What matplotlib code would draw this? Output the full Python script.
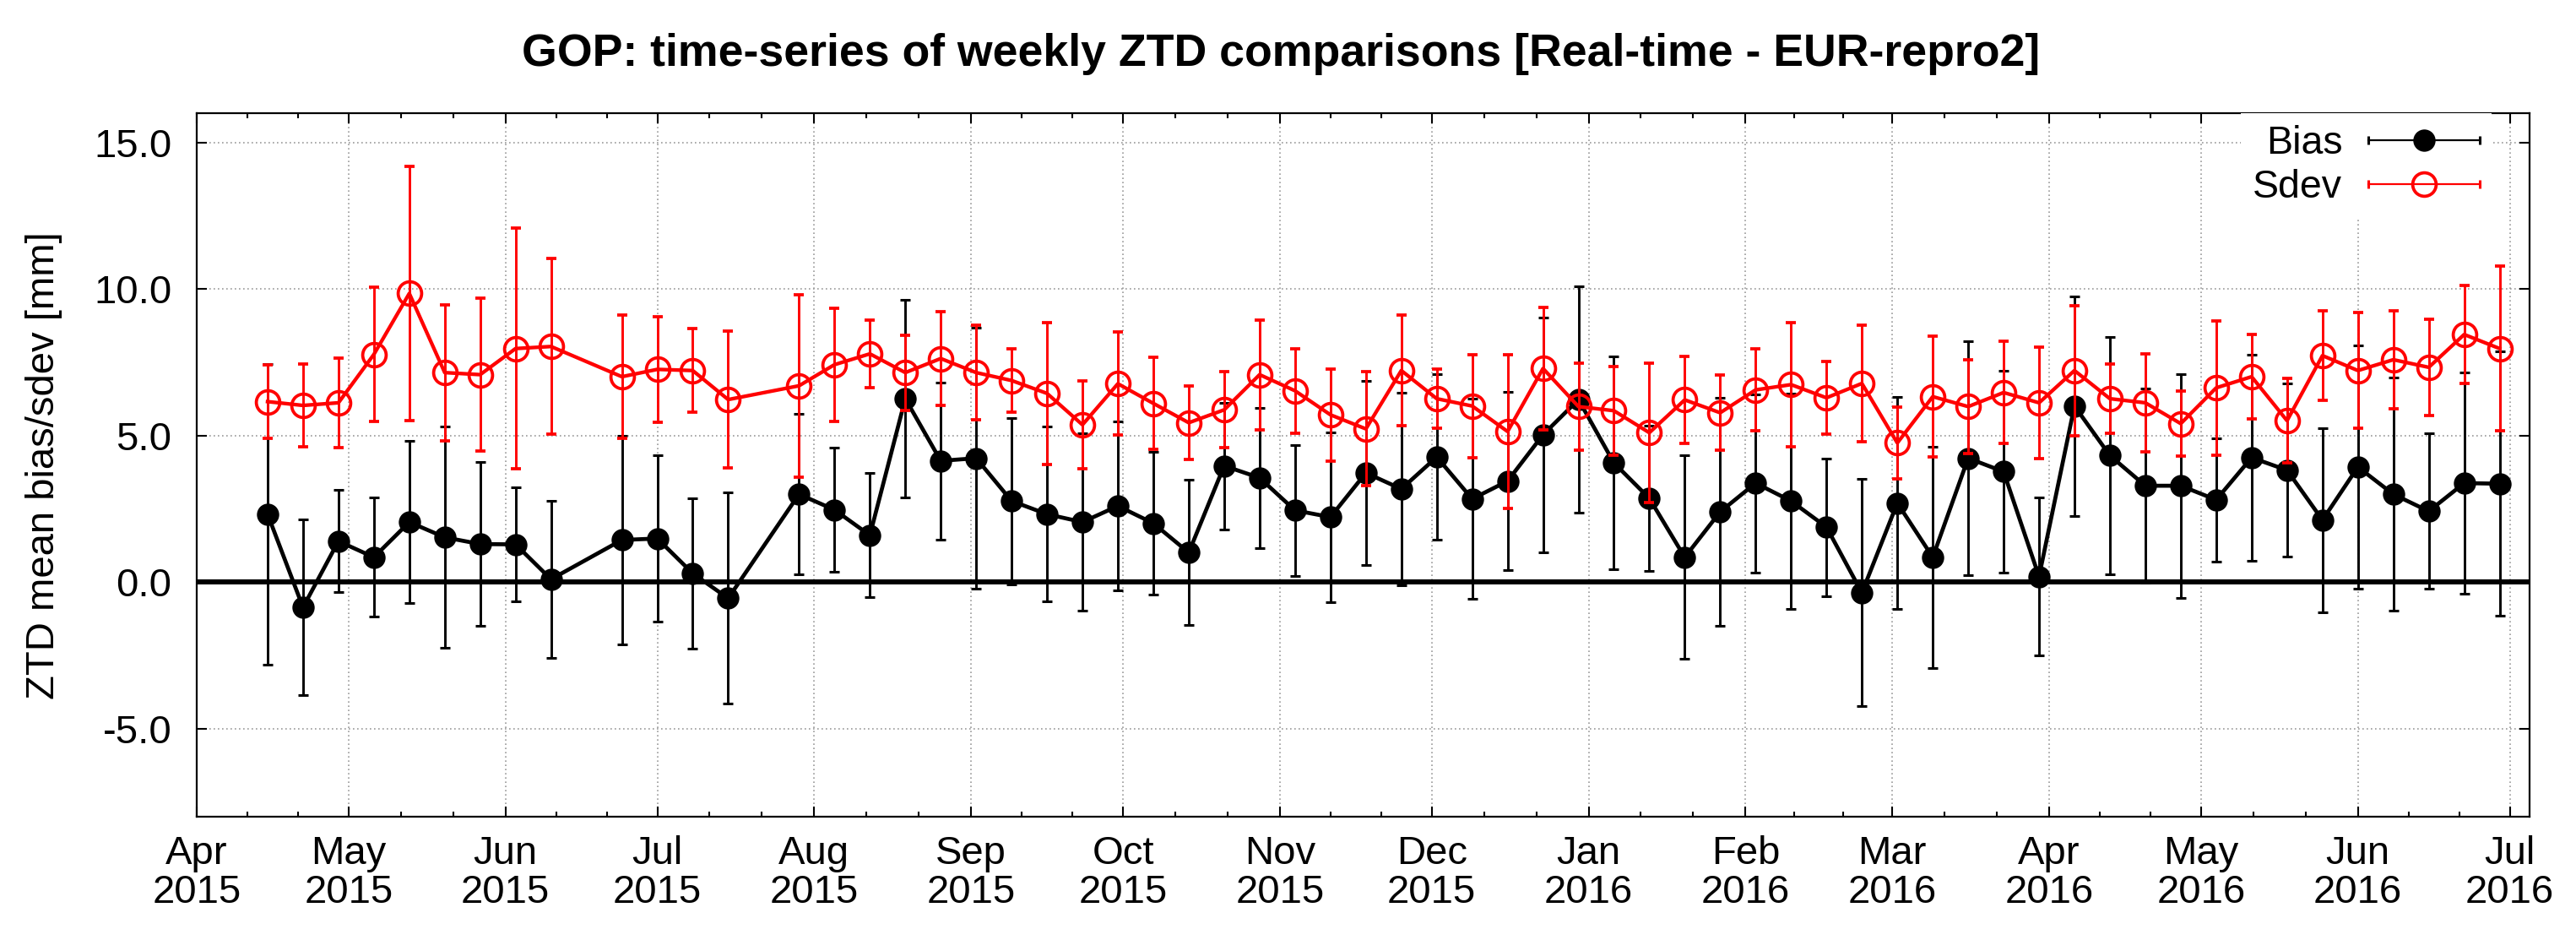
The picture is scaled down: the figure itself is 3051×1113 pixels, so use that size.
import datetime as dt
import matplotlib
matplotlib.use('Agg')
import matplotlib.pyplot as plt
import matplotlib.dates as mdates
from matplotlib.lines import Line2D
from matplotlib.legend_handler import HandlerLine2D, HandlerTuple

plt.rcParams['font.family'] = ['Liberation Sans', 'DejaVu Sans']
plt.rcParams['axes.unicode_minus'] = False

# weekly solutions (two weeks missing: 2015-06-17 and 2015-07-22)
week_dates = [
    "2015-04-15", "2015-04-22", "2015-04-29", "2015-05-06", "2015-05-13",
    "2015-05-20", "2015-05-27", "2015-06-03", "2015-06-10", "2015-06-24",
    "2015-07-01", "2015-07-08", "2015-07-15", "2015-07-29", "2015-08-05",
    "2015-08-12", "2015-08-19", "2015-08-26", "2015-09-02", "2015-09-09",
    "2015-09-16", "2015-09-23", "2015-09-30", "2015-10-07", "2015-10-14",
    "2015-10-21", "2015-10-28", "2015-11-04", "2015-11-11", "2015-11-18",
    "2015-11-25", "2015-12-02", "2015-12-09", "2015-12-16", "2015-12-23",
    "2015-12-30", "2016-01-06", "2016-01-13", "2016-01-20", "2016-01-27",
    "2016-02-03", "2016-02-10", "2016-02-17", "2016-02-24", "2016-03-02",
    "2016-03-09", "2016-03-16", "2016-03-23", "2016-03-30", "2016-04-06",
    "2016-04-13", "2016-04-20", "2016-04-27", "2016-05-04", "2016-05-11",
    "2016-05-18", "2016-05-25", "2016-06-01", "2016-06-08", "2016-06-15",
    "2016-06-22", "2016-06-29",
]

bias = [
    2.32, -0.86, 1.40, 0.85, 2.05, 1.53, 1.30, 1.29, 0.10, 1.44,
    1.49, 0.30, -0.55, 3.00, 2.47, 1.60, 6.26, 4.14, 4.23, 2.77,
    2.32, 2.05, 2.60, 2.01, 1.01, 3.97, 3.56, 2.45, 2.22, 3.73,
    3.18, 4.27, 2.84, 3.45, 5.03, 6.23, 4.07, 2.86, 0.85, 2.40,
    3.38, 2.77, 1.88, -0.36, 2.70, 0.85, 4.23, 3.77, 0.19, 6.01,
    4.32, 3.29, 3.29, 2.81, 4.25, 3.82, 2.12, 3.93, 3.00, 2.42,
    3.38, 3.36,
]
bias_err = [
    5.13, 3.00, 1.75, 2.03, 2.76, 3.78, 2.80, 1.94, 2.68, 3.56,
    2.83, 2.56, 3.60, 2.73, 2.12, 2.12, 3.36, 2.68, 4.45, 2.84,
    2.98, 3.03, 2.88, 2.43, 2.48, 2.16, 2.39, 2.23, 2.89, 3.13,
    3.29, 2.82, 3.41, 3.04, 4.00, 3.85, 3.64, 2.48, 3.47, 3.88,
    3.04, 3.67, 2.35, 3.88, 3.61, 3.78, 3.98, 3.43, 2.70, 3.74,
    4.05, 3.32, 3.82, 2.11, 3.52, 2.95, 3.14, 4.16, 3.98, 2.65,
    3.78, 4.51,
]
sdev = [
    6.16, 6.03, 6.12, 7.77, 9.85, 7.15, 7.08, 7.97, 8.04, 7.01,
    7.26, 7.22, 6.23, 6.70, 7.42, 7.79, 7.15, 7.63, 7.15, 6.88,
    6.44, 5.37, 6.77, 6.10, 5.44, 5.88, 7.08, 6.53, 5.71, 5.23,
    7.22, 6.26, 6.01, 5.14, 7.29, 5.99, 5.85, 5.10, 6.22, 5.78,
    6.56, 6.74, 6.29, 6.78, 4.75, 6.33, 5.99, 6.47, 6.12, 7.22,
    6.26, 6.12, 5.41, 6.63, 7.01, 5.51, 7.73, 7.22, 7.59, 7.33,
    8.45, 7.97,
]
sdev_err = [
    1.25, 1.42, 1.52, 2.30, 4.33, 2.32, 2.60, 4.11, 3.00, 2.11,
    1.80, 1.42, 2.33, 3.11, 1.93, 1.15, 1.28, 1.60, 1.61, 1.08,
    2.42, 1.50, 1.76, 1.56, 1.25, 1.29, 1.87, 1.44, 1.57, 1.95,
    1.89, 1.02, 1.76, 2.63, 2.09, 1.49, 1.52, 2.37, 1.49, 1.28,
    1.40, 2.11, 1.25, 1.98, 1.22, 2.05, 1.60, 1.74, 1.89, 2.22,
    1.19, 1.66, 1.12, 2.29, 1.43, 1.44, 1.52, 1.97, 1.66, 1.65,
    1.67, 2.81,
]

y_ticks = [-5, 0, 5, 10, 15]

x = [dt.datetime.strptime(d, "%Y-%m-%d") for d in week_dates]

fig = plt.figure(figsize=(30.51, 11.13), dpi=100)
ax = fig.add_axes([233 / 3051, 1 - 967 / 1113, 2763 / 3051, 833 / 1113])

ax.axhline(0, color='black', lw=4.3, zorder=1.5)

eb = ax.errorbar(x, bias, yerr=bias_err, color='black', lw=3.4, marker='o',
                 ms=19, elinewidth=2.1, capsize=4.2, capthick=2.2, zorder=3)
eb[0].set_markeredgewidth(0)
ax.errorbar(x, sdev, yerr=sdev_err, color='red', lw=3.1, marker='o', ms=20,
            mfc='none', mec='red', mew=2.7, elinewidth=2.1, capsize=4.2,
            capthick=2.2, zorder=4)

# month ticks, minor ticks at thirds of each month
months = [dt.datetime(2015 + (3 + i) // 12, (3 + i) % 12 + 1, 1) for i in range(16)]
mnum = mdates.date2num(months)
minor = []
for a, b in zip(mnum[:-1], mnum[1:]):
    minor += [a + (b - a) / 3, a + 2 * (b - a) / 3]
ax.set_xticks(mnum, [m.strftime("%b\n%Y") for m in months])
ax.set_xticks(minor, minor=True)
for lbl in ax.get_xticklabels():
    lbl.set_linespacing(1.05)
ax.set_xlim(mdates.date2num(dt.datetime(2015, 4, 1)),
            mdates.date2num(dt.datetime(2016, 7, 4, 22)))

ax.set_ylim(-8, 16)
ax.set_yticks(y_ticks, [f"{v:.1f}" for v in y_ticks])

ax.tick_params(which='both', direction='in', top=True, right=True, width=1.5,
               labelsize=34)
ax.tick_params(which='major', length=8.5)
ax.tick_params(which='minor', length=4.3)
ax.tick_params(axis='x', pad=16)
ax.tick_params(axis='y', pad=21.5)

ax.grid(True, which='major', color='#9a9a9a', lw=1.2, ls=(0, (1, 2)))
ax.set_axisbelow(True)
for s in ax.spines.values():
    s.set_linewidth(1.6)

fig.text(0.4972, 1 - 78 / 1113,
         "GOP: time-series of weekly ZTD comparisons [Real-time - EUR-repro2]",
         ha='center', va='baseline', fontsize=38.6, fontweight='bold')
fig.text(52 / 3051, 1 - 551 / 1113, "ZTD mean bias/sdev [mm]", rotation=90,
         ha='center', va='center', fontsize=34)

# legend: line + marker with error-bar caps at both ends
b_line = Line2D([], [], color='black', lw=1.6, marker='o', ms=19, mew=0)
b_caps = Line2D([], [], color='black', ls='none', marker='|', ms=7.5, mew=2.2)
s_line = Line2D([], [], color='red', lw=1.6, marker='o', ms=20, mfc='none',
                mec='red', mew=2.7)
s_caps = Line2D([], [], color='red', ls='none', marker='|', ms=7.5, mew=2.2)
hmap = {
    tuple: HandlerTuple(ndivide=1, pad=0),
    b_line: HandlerLine2D(numpoints=1),
    s_line: HandlerLine2D(numpoints=1),
    b_caps: HandlerLine2D(numpoints=2, marker_pad=0),
    s_caps: HandlerLine2D(numpoints=2, marker_pad=0),
}
leg = ax.legend([(b_line, b_caps), (s_line, s_caps)], ["Bias", "Sdev"],
                handler_map=hmap, markerfirst=False, loc='upper right',
                bbox_to_anchor=(0.992, 1.028), fontsize=33.5,
                handlelength=2.84, handletextpad=0.65, labelspacing=0.18,
                borderpad=0.3, frameon=True, fancybox=False, framealpha=1,
                facecolor='white', edgecolor='none')

fig.savefig("out.png", dpi=100)
